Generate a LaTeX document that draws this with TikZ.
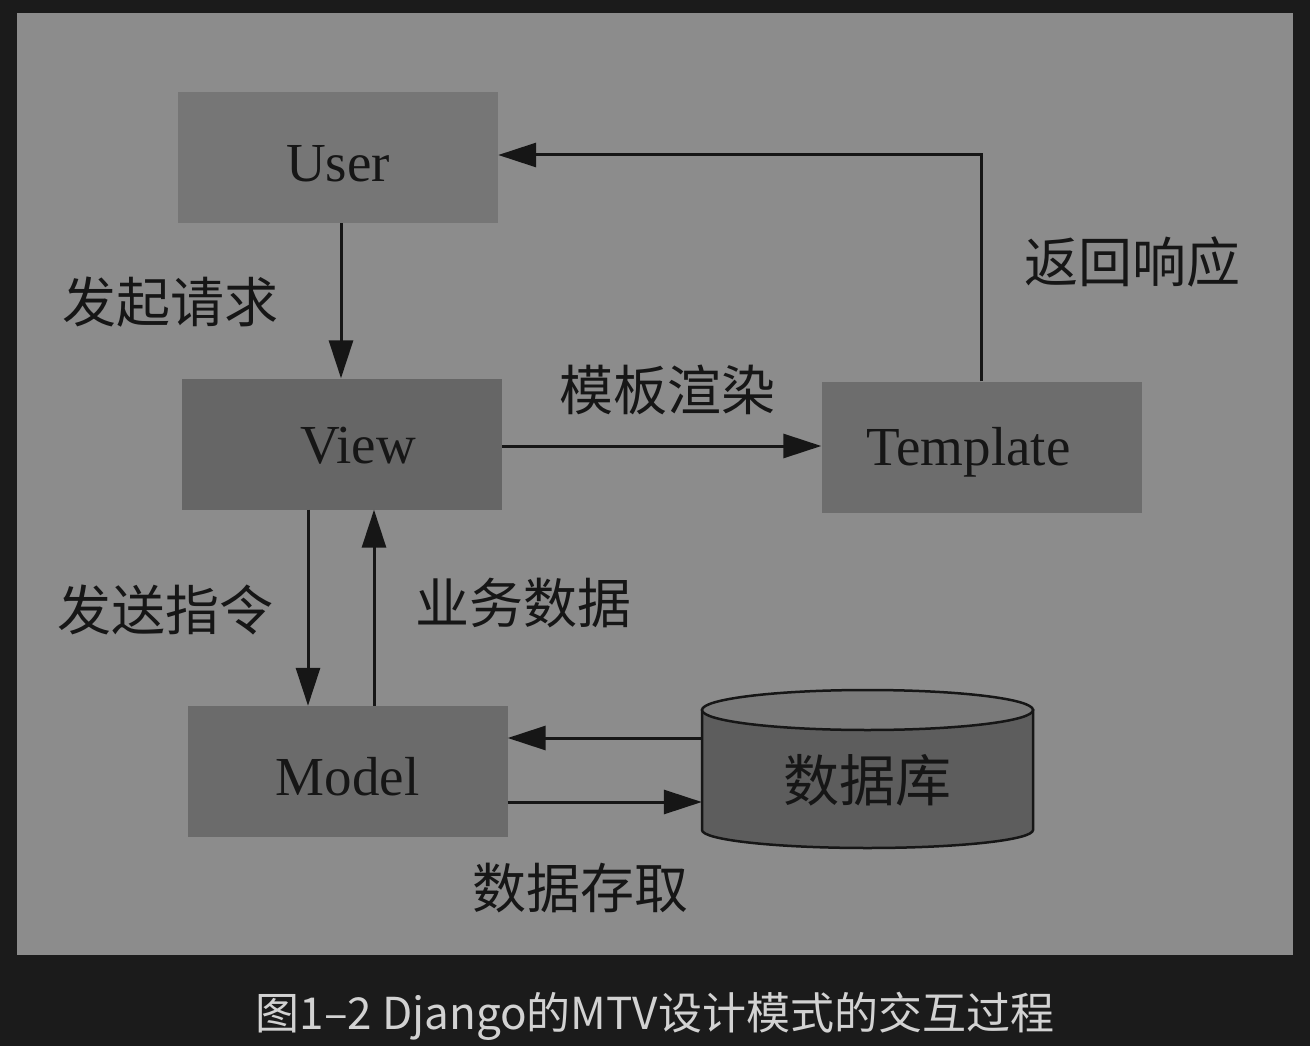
\documentclass[tikz,border=0pt]{standalone}
\usepackage{fontspec}
\setmainfont{Liberation Serif}
\newfontfamily\cjk{Noto Sans CJK SC}
\usetikzlibrary{arrows.meta,calc}
\definecolor{outerbg}{HTML}{1B1B1B}
\definecolor{panel}{HTML}{8C8C8C}
\definecolor{userfill}{HTML}{767676}
\definecolor{viewfill}{HTML}{666666}
\definecolor{tmplfill}{HTML}{6D6D6D}
\definecolor{modelfill}{HTML}{6B6B6B}
\definecolor{dbside}{HTML}{5D5D5D}
\definecolor{dbtop}{HTML}{7A7A7A}
\definecolor{ink}{HTML}{161616}
\definecolor{captxt}{HTML}{D2D2D2}
\newcommand{\lowertxt}[2]{\raisebox{-#1}[\height][\depth]{#2}}
\tikzset{
  box/.style={inner sep=0pt, minimum width=320pt, minimum height=131pt, text=ink,
    font=\fontsize{55}{60}\selectfont},
  lbl/.style={text=ink, font=\cjk\fontsize{54}{60}\selectfont, inner sep=0pt},
  arr/.style={draw=ink, line width=3pt, -{Triangle[length=38pt,width=24pt]}},
}
\begin{document}
\begin{tikzpicture}[x=1pt,y=-1pt]
\fill[outerbg] (0,0) rectangle (1310,1046);
\useasboundingbox (0,0) rectangle (1310,1046);
\fill[panel] (17,13) rectangle (1293,955);
% boxes
\node[box, fill=userfill] (user) at (338,157.5) {\lowertxt{6pt}{User}};
\node[box, fill=viewfill] (view) at (342,444) {\hspace*{32pt}\lowertxt{2pt}{View}};
\node[box, fill=tmplfill] (tmpl) at (981.5,447) {\hspace*{-26pt}\lowertxt{5pt}{Template}};
\node[box, fill=modelfill] (model) at (347.5,771.5) {\lowertxt{5pt}{Model}};
% database cylinder
\fill[dbside, draw=ink, line width=2.5pt] (702,710) -- (702,830) arc[start angle=180, end angle=0, x radius=165.5, y radius=18] -- (1033,710) -- cycle;
\filldraw[fill=dbtop, draw=ink, line width=2.5pt] (867.5,710) ellipse[x radius=165.5, y radius=20];
\node[inner sep=0pt, minimum width=331pt, minimum height=100pt, text=ink, font=\cjk\fontsize{56}{60}\selectfont] (db) at (867.5,780) {数据库};
% connectors
\draw[arr] ([xshift=3pt]user.south) -- ([xshift=-1pt]view.north);
\draw[arr] (tmpl.north) |- ([yshift=2.5pt]user.east);
\draw[arr] ([yshift=-2pt]view.east) -- ([yshift=1pt]tmpl.west);
\draw[arr] ([xshift=-34pt]view.south) -- ([xshift=-39.5pt]model.north);
\draw[arr] ([xshift=26.5pt]model.north) -- ([xshift=32pt]view.south);
\draw[arr] ([yshift=42pt]db.west) -- ([yshift=33.5pt]model.east);
\draw[arr] ([yshift=-30.5pt]model.east) -- ([yshift=-22pt]db.west);
% labels
\node[lbl] (l1) at (170,302) {发起请求};
\node[lbl] (l2) at (1132,262) {返回响应};
\node[lbl] (l3) at (667,390) {模板渲染};
\node[lbl] (l4) at (165,610) {发送指令};
\node[lbl] (l5) at (523,603) {业务数据};
\node[lbl] (l6) at (580,888) {数据存取};
% caption
\node[text=captxt, font=\cjk\fontsize{44}{50}\selectfont, inner sep=0pt] (cap) at (655,1016) {图1–2 Django的MTV设计模式的交互过程};
\end{tikzpicture}
\end{document}
